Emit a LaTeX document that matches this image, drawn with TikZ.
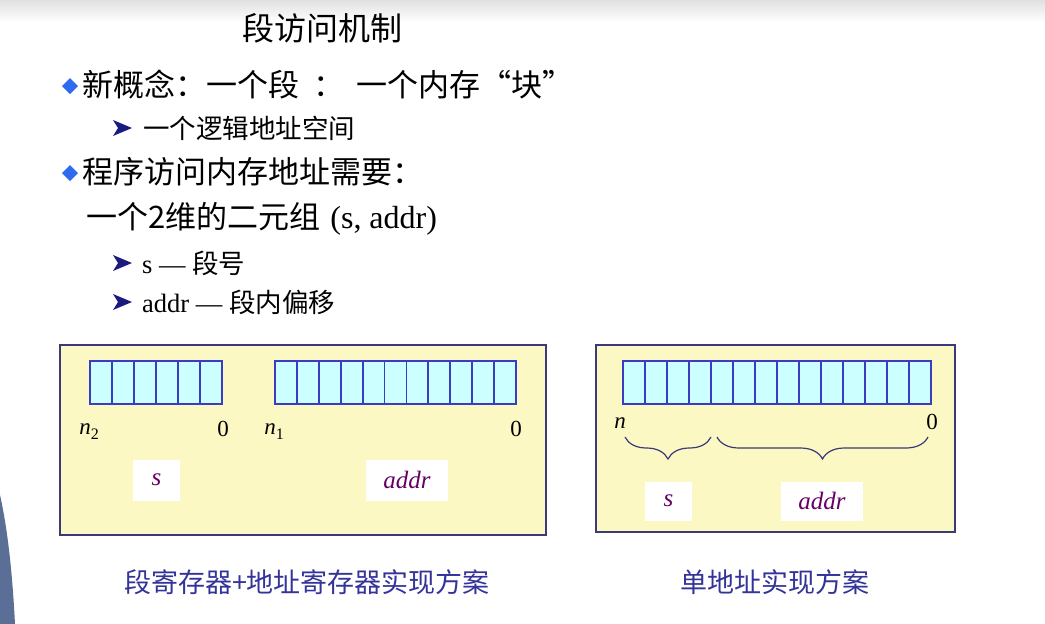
\documentclass[tikz,border=0pt]{standalone}
\usepackage{fontspec}
\setmainfont{Liberation Serif}
\newfontfamily\cjk{Noto Sans CJK SC}
\usetikzlibrary{decorations.pathreplacing}
\definecolor{boxfill}{HTML}{FCF8C4}
\definecolor{boxline}{HTML}{3A3A78}
\definecolor{cellfill}{HTML}{CCFFFF}
\definecolor{cellline}{HTML}{3B3BC4}
\definecolor{varcol}{HTML}{660066}
\definecolor{capcol}{HTML}{333399}
\definecolor{bulblue}{HTML}{2F6BEF}
\definecolor{arrnavy}{HTML}{1A1A80}
\definecolor{decocol}{HTML}{5A6E96}
\newcommand{\bitsub}[2]{\textit{#1}\raisebox{-5pt}{\fontsize{16}{16}\selectfont #2}}
\begin{document}
\begin{tikzpicture}[x=1pt,y=-1pt,
  txt/.style={anchor=west,inner sep=0pt},
  mainline/.style={txt,font=\fontsize{31}{31}\selectfont},
  subline/.style={txt,font=\fontsize{26.5}{26.5}\selectfont},
  panel/.style={draw=boxline,fill=boxfill,line width=1.3pt},
  cell/.style={draw=cellline,fill=cellfill,line width=1.8pt},
  varbox/.style={fill=white,inner sep=0pt,font=\fontsize{25}{25}\selectfont\itshape,text=varcol},
  bitlbl/.style={inner sep=0pt,font=\fontsize{23}{23}\selectfont},
  caption/.style={inner sep=0pt,text=capcol,font=\cjk\fontsize{27}{27}\selectfont},
  bracedeco/.style={decorate,decoration={brace,mirror,amplitude=22pt},line width=1.2pt,draw=boxline}
]
\useasboundingbox (0,0) rectangle (1045,624);
\fill[white] (0,0) rectangle (1045,624);
\shade[top color=black!12,bottom color=white] (0,0) rectangle (1045,22);
% left edge decoration
\fill[decocol] (0,495) .. controls (9,535) and (13,585) .. (15,624) -- (0,624) -- cycle;

% title
\node[inner sep=0pt] (title) at (322,28) {\cjk\fontsize{32}{32}\selectfont 段访问机制};

% bullets
\fill[bulblue] (62,86) -- (70,78) -- (78,86) -- (70,94) -- cycle;
\node[mainline] (l1) at (82,85) {\cjk 新概念：一个段\hspace{14pt}：\hspace{12pt}一个内存“块”};
\fill[arrnavy] (113,120) -- (132,128) -- (113,136) -- (118,128) -- cycle;
\node[subline] (l2) at (143,128) {\cjk 一个逻辑地址空间};
\fill[bulblue] (62,173) -- (70,165) -- (78,173) -- (70,181) -- cycle;
\node[mainline] (l3) at (82,172) {\cjk 程序访问内存地址需要：};
\node[mainline] (l4) at (86,219) {\cjk 一个2维的二元组\hspace{10pt}\rmfamily\fontsize{32}{32}\selectfont(s, addr)};
\fill[arrnavy] (113,255) -- (132,263) -- (113,271) -- (118,263) -- cycle;
\node[subline] (l5) at (142,263) {s — {\cjk 段号}};
\fill[arrnavy] (113,294) -- (132,302) -- (113,310) -- (118,302) -- cycle;
\node[subline] (l6) at (142,302) {addr — {\cjk 段内偏移}};

% left panel
\draw[panel] (60,345) rectangle (546,535);
\foreach \i in {0,...,5} {\draw[cell] ({90+\i*22},361) rectangle ({90+(\i+1)*22},404);}
\foreach \i in {0,...,10} {\draw[cell] ({275+\i*21.9},361) rectangle ({275+(\i+1)*21.9},404);}
\node[bitlbl] (n2) at (89,432) {\bitsub{n}{2}};
\node[bitlbl] (z1) at (223,429) {0};
\node[bitlbl] (n1) at (274,432) {\bitsub{n}{1}};
\node[bitlbl] (z2) at (516,429) {0};
\node[varbox,minimum width=47pt,minimum height=41pt] (sL) at (156.5,480) {s};
\node[varbox,minimum width=82pt,minimum height=41pt] (aL) at (407,480) {addr};

% right panel
\draw[panel] (596,345) rectangle (955,532);
\foreach \i in {0,...,13} {\draw[cell] ({623+\i*22},361) rectangle ({623+(\i+1)*22},404);}
\node[bitlbl] (nn) at (620,423) {\textit{n}};
\node[bitlbl] (z3) at (932,422) {0};
\coordinate (b1a) at (625,437);
\coordinate (b1b) at (711,437);
\coordinate (b2a) at (717,437);
\coordinate (b2b) at (928,437);
\draw[bracedeco] (b1a) -- (b1b);
\draw[bracedeco] (b2a) -- (b2b);
\node[varbox,minimum width=47pt,minimum height=39pt] (sR) at (668.5,501) {s};
\node[varbox,minimum width=82pt,minimum height=39pt] (aR) at (822,501) {addr};

% captions
\node[caption] (c1) at (307,582) {段寄存器+地址寄存器实现方案};
\node[caption] (c2) at (775,582) {单地址实现方案};
\end{tikzpicture}
\end{document}
